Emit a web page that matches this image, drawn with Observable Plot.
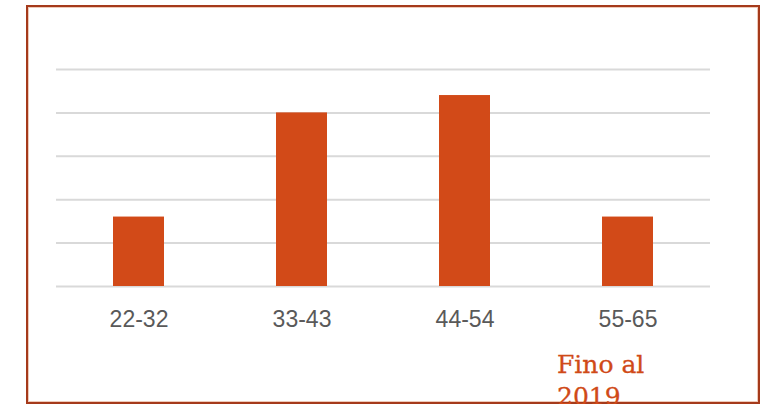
<!DOCTYPE html>
<html>
<head>
<meta charset="utf-8">
<script src="https://cdn.jsdelivr.net/npm/d3@7"></script>
<script src="https://cdn.jsdelivr.net/npm/@observablehq/plot@0.6"></script>
<style>
  html, body { margin: 0; padding: 0; background: #fff; width: 770px; height: 404px; overflow: hidden; }
  #frame {
    position: absolute; left: 26px; top: 5px; width: 734px; height: 399px;
    box-sizing: border-box; border: 2px solid #a53a1b;
    box-shadow: inset 0 0 0 1px #efc9b8;
  }
  #chart { position: absolute; left: 0; top: 0; }
  #note {
    position: absolute; left: 557px; top: 349px; width: 120px;
    font-family: "DejaVu Serif", serif; font-size: 25px; line-height: 32px;
    color: #d04a18; -webkit-text-stroke: 0.3px #d04a18;
  }
</style>
</head>
<body>
<div id="chart"></div>
<div id="frame"></div>
<div id="note">Fino al 2019</div>
<script>
// Age bands and counts per band
const ageBands = ["22-32", "33-43", "44-54", "55-65"];
const counts = [8, 20, 22, 8];
const gridTicks = [0, 5, 10, 15, 20, 25];

const rows = ageBands.map((band, i) => ({band, count: counts[i]}));

const chart = Plot.plot({
  width: 770,
  height: 340,
  marginLeft: 56,
  marginRight: 60,
  marginTop: 69,
  marginBottom: 54,
  style: {background: "transparent", overflow: "visible"},
  x: {domain: ageBands, paddingInner: 0.69, paddingOuter: 0.345, label: null},
  y: {domain: [0, 25], axis: null},
  marks: [
    Plot.ruleY(gridTicks, {stroke: "#d9d9d9", strokeWidth: 2}),
    Plot.barY(rows, {x: "band", y: "count", fill: "#d24a18"}),
    Plot.axisX({
      tickSize: 0,
      tickPadding: 24,
      fontSize: 23,
      fontFamily: "Liberation Sans, Arial, sans-serif",
      fill: "#595959",
      label: null
    })
  ]
});
document.getElementById("chart").append(chart);
</script>
</body>
</html>
